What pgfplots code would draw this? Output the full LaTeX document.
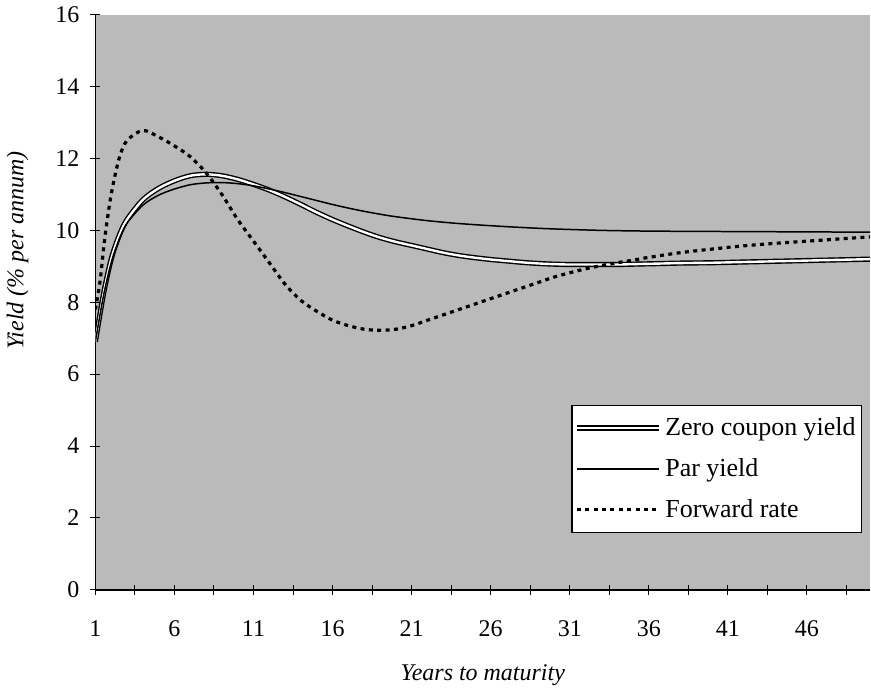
\documentclass[border=0pt]{standalone}
\usepackage{fontspec}
\setmainfont{Liberation Serif}
\usepackage{pgfplots}
\pgfplotsset{compat=1.18}
\begin{document}
\begin{tikzpicture}
\begin{axis}[
    scale only axis,
    width=388pt, height=288pt,
    xmin=1, xmax=50, ymin=0, ymax=16,
    axis x line*=bottom, axis y line*=left,
    axis line style={line width=0.8pt},
    axis background/.style={fill=black!27},
    xtick={1,6,...,46}, minor xtick={3.5,8.5,...,48.5},
    ytick={0,2,...,16},
    tick align=center, major tick length=5pt, minor tick length=5pt,
    major tick style={black, line width=0.5pt},
    minor tick style={black, line width=0.5pt},
    /pgf/number format/assume math mode=true,
    ticklabel style={font=\fontsize{12}{14}\selectfont},
    xticklabel style={yshift=-9.5pt},
    yticklabel style={xshift=-2pt},
    xlabel={Years to maturity},
    ylabel={Yield (\% per annum)},
    label style={font=\fontsize{12}{14}\selectfont\itshape},
    xlabel style={at={(axis description cs:0.5,0)}, anchor=center, yshift=-42.5pt},
    ylabel style={at={(axis description cs:-0.1005,0.59)}, anchor=center},
    legend cell align=left,
    legend style={font=\fontsize{13}{15}\selectfont, draw=black, line width=0.8pt,
        fill=white, at={(axis description cs:0.99,0.322)}, anchor=north east,
        row sep=6pt, inner xsep=1pt, inner ysep=4pt,
        nodes={inner xsep=2pt}},
    legend image code/.code={\draw[#1] (0pt,0pt) -- (41pt,0pt);},
]
% zero coupon yield
\addplot[black, line width=0.7pt, double=white, double distance=1.2pt, smooth] coordinates {
(1,6.9) (1.5,8.2) (2,9.2) (2.5,9.85) (3,10.3) (4,10.85) (5,11.17) (6,11.38) (7,11.52) (8,11.56)
(9,11.52) (10,11.42) (11,11.28) (12,11.12) (13,10.93) (14,10.72) (15,10.5) (16,10.3)
(17,10.12) (18,9.95) (19,9.8) (20,9.68) (21,9.58) (22,9.48) (23,9.38) (24,9.3)
(25,9.24) (26,9.19) (27,9.15) (28,9.11) (29,9.08) (30,9.06) (31,9.05) (32,9.05)
(33,9.05) (34,9.05) (35,9.06) (36,9.07) (37,9.08) (38,9.09) (40,9.1) (42,9.12)
(44,9.14) (46,9.16) (48,9.18) (50,9.2)};
\addlegendentry{Zero coupon yield}
% par yield
\addplot[black, line width=0.75pt, smooth] coordinates {
(1,6.9) (1.5,8.15) (2,9.1) (2.5,9.75) (3,10.2) (4,10.7) (5,10.98) (6,11.15) (7,11.27) (8,11.32)
(9,11.33) (10,11.3) (11,11.24) (12,11.15) (13,11.05) (14,10.94) (15,10.83) (16,10.72)
(17,10.62) (18,10.53) (19,10.45) (20,10.38) (22,10.27) (24,10.19) (26,10.13)
(28,10.08) (30,10.04) (33,10.0) (36,9.98) (40,9.97) (45,9.96) (50,9.95)};
\addlegendentry{Par yield}
% forward rate
\addplot[black, line width=1.6pt, dash pattern=on 2pt off 2.2pt, smooth] coordinates {
(1,7.8) (1.3,8.6) (1.6,9.8) (2,11.0) (2.5,12.0) (3,12.5) (4,12.78) (5,12.6) (6,12.35)
(7,12.05) (8,11.6) (9,11.0) (10,10.3) (11,9.7) (12,9.1) (13,8.5) (14,8.05) (15,7.75)
(16,7.5) (17,7.35) (18,7.25) (19,7.22) (20,7.25) (21,7.35) (22,7.5) (23,7.65) (24,7.8)
(25,7.95) (26,8.1) (27,8.25) (28,8.4) (29,8.55) (30,8.7) (31,8.82) (32,8.93) (33,9.02)
(34,9.1) (35,9.17) (36,9.25) (38,9.38) (40,9.48) (42,9.57) (44,9.64) (46,9.7)
(48,9.76) (50,9.82)};
\addlegendentry{Forward rate}
\end{axis}
\end{tikzpicture}
\end{document}
